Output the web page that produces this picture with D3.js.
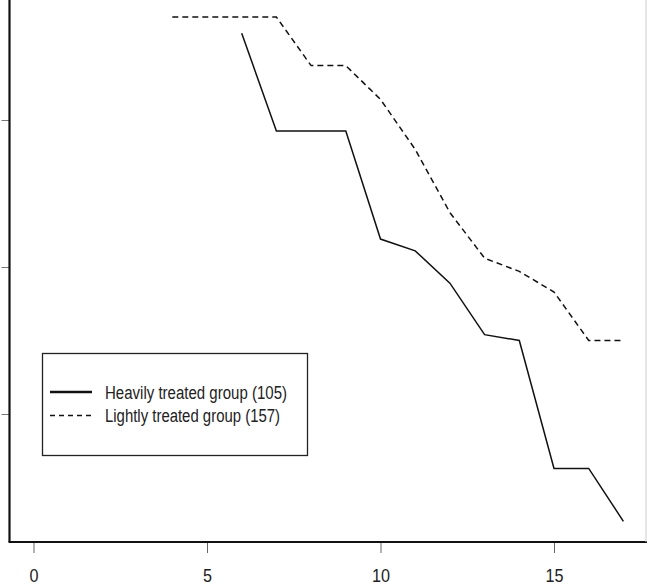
<!DOCTYPE html>
<html>
<head>
<meta charset="utf-8">
<script src="https://cdn.jsdelivr.net/npm/d3@7"></script>
<style>
  body { margin: 0; background: #fff; }
  svg { display: block; font-family: 'Liberation Sans', Arial, sans-serif; }
</style>
</head>
<body>
<div id="chart"></div>
<script>
// values
const heavyX = [6, 7, 8, 9, 10, 11, 12, 13, 14, 15, 16, 17]
const heavyY = [0.959, 0.8925, 0.8925, 0.8925, 0.819, 0.811, 0.789, 0.754, 0.750, 0.663, 0.663, 0.627]
const lightX = [4, 5, 6, 7, 8, 9, 10, 11, 12, 13, 14, 15, 16, 17]
const lightY = [0.970, 0.970, 0.970, 0.970, 0.937, 0.937, 0.914, 0.880, 0.837, 0.806, 0.797, 0.783, 0.750, 0.750]
const xTicks = [0, 5, 10, 15]
const yTicks = [0.7, 0.8, 0.9]
const legendLabels = ['Heavily treated group (105)', 'Lightly treated group (157)']
const legendWidths = [182, 175]

const width = 647
const height = 585
const box = { left: 9.5, bottom: 542, right: 646 }

const svg = d3.select('#chart')
  .append('svg')
  .attr('width', width)
  .attr('height', height)

const x = d3.scaleLinear()
  .domain([0, 5])
  .range([33.5, 207])

const y = d3.scaleLinear()
  .domain([0.9, 0.7])
  .range([120, 414])

const xAxis = svg.append('g')
  .attr('transform', `translate(0, ${box.bottom})`)
  .call(d3.axisBottom(x).tickValues(xTicks).tickSize(11).tickPadding(16).tickFormat(d3.format('d')))
xAxis.select('.domain').remove()
xAxis.selectAll('line').attr('stroke', '#666')
xAxis.selectAll('text')
  .attr('font-size', 19)
  .attr('fill', '#222')
  .attr('font-family', "'Liberation Sans', Arial, sans-serif")
  .attr('textLength', d => String(d).length * 9)
  .attr('lengthAdjust', 'spacingAndGlyphs')

// y tick labels sit off the left edge in the cropped original, so only marks are kept
const yAxis = svg.append('g')
  .attr('transform', `translate(${box.left}, 0)`)
  .call(d3.axisLeft(y).tickValues(yTicks).tickSize(8).tickFormat(''))
yAxis.select('.domain').remove()
yAxis.selectAll('line').attr('stroke', '#777')

// plot frame
svg.append('line')
  .attr('x1', box.left).attr('x2', box.left)
  .attr('y1', 0).attr('y2', box.bottom)
  .attr('stroke', '#111').attr('stroke-width', 2.2)
svg.append('line')
  .attr('x1', box.left - 1).attr('x2', width)
  .attr('y1', box.bottom).attr('y2', box.bottom)
  .attr('stroke', '#111').attr('stroke-width', 2.2)
svg.append('line')
  .attr('x1', box.right).attr('x2', box.right)
  .attr('y1', 0).attr('y2', box.bottom)
  .attr('stroke', '#ccc').attr('stroke-width', 1)

const line = d3.line()
  .x(d => x(d[0]))
  .y(d => y(d[1]))

svg.append('path')
  .datum(heavyX.map((d, i) => [d, heavyY[i]]))
  .attr('d', line)
  .attr('fill', 'none')
  .attr('stroke', '#111')
  .attr('stroke-width', 1.5)

svg.append('path')
  .datum(lightX.map((d, i) => [d, lightY[i]]))
  .attr('d', line)
  .attr('fill', 'none')
  .attr('stroke', '#111')
  .attr('stroke-width', 1.5)
  .attr('stroke-dasharray', '6,4')

// legend
const legend = svg.append('g')
legend.append('rect')
  .attr('x', 42.5).attr('y', 353.5)
  .attr('width', 265).attr('height', 102)
  .attr('fill', 'none')
  .attr('stroke', '#222')
  .attr('stroke-width', 1.3)

legendLabels.forEach((label, i) => {
  const ly = 392 + i * 23.5
  legend.append('line')
    .attr('x1', 50).attr('x2', 92)
    .attr('y1', ly).attr('y2', ly)
    .attr('stroke', '#111')
    .attr('stroke-width', i === 0 ? 2.5 : 1.5)
    .attr('stroke-dasharray', i === 0 ? null : '5,4')
  legend.append('text')
    .attr('x', 105).attr('y', ly + 6.5)
    .attr('font-size', 18)
    .attr('fill', '#222')
    .attr('textLength', legendWidths[i])
    .attr('lengthAdjust', 'spacingAndGlyphs')
    .text(label)
})
</script>
</body>
</html>
